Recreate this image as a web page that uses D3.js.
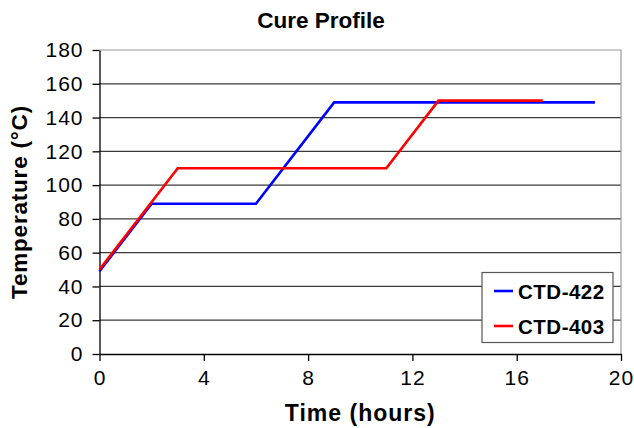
<!DOCTYPE html>
<html>
<head>
<meta charset="utf-8">
<script src="https://cdn.jsdelivr.net/npm/d3@7"></script>
<style>
  body { margin: 0; background: #fff; }
  svg { display: block; font-family: "Liberation Sans", Arial, sans-serif; }
</style>
</head>
<body>
<div id="chart"></div>
<script>
// series
const ctd422Hours = [0, 2, 6, 9, 19];
const ctd422Temps = [49, 89, 89, 149, 149];
const ctd403Hours = [0, 3, 11, 13, 17];
const ctd403Temps = [50, 110, 110, 150, 150];
const xTicks = [0, 4, 8, 12, 16, 20];
const yTicks = [0, 20, 40, 60, 80, 100, 120, 140, 160, 180];

const series = [
  {name: "CTD-422", color: "#0000ff", x: ctd422Hours, y: ctd422Temps},
  {name: "CTD-403", color: "#ff0000", x: ctd403Hours, y: ctd403Temps},
];

const width = 634, height = 428;
const margin = {top: 50, right: 13, bottom: 74, left: 99.5};
const font = "Liberation Sans, Arial, sans-serif";

const x = d3.scaleLinear().domain([0, 20]).range([margin.left, width - margin.right]);
const y = d3.scaleLinear().domain([0, 180]).range([height - margin.bottom, margin.top]);

const svg = d3.select("#chart").append("svg")
  .attr("width", width)
  .attr("height", height)
  .attr("viewBox", [0, 0, width, height]);

// gridlines
svg.append("g")
  .selectAll("line")
  .data(yTicks.slice(1, -1))
  .join("line")
    .attr("x1", x(0)).attr("x2", x(20))
    .attr("y1", d => y(d)).attr("y2", d => y(d))
    .attr("stroke", "#3a3a3a")
    .attr("stroke-width", 1.2);

// top and right border
svg.append("path")
  .attr("d", `M${x(0)},${y(180)}H${x(20)}V${y(0)}`)
  .attr("fill", "none")
  .attr("stroke", "#9a9a9a")
  .attr("stroke-width", 1.2);

const xAxis = d3.axisBottom(x).tickValues(xTicks).tickSize(7).tickSizeOuter(0).tickPadding(9);
const yAxis = d3.axisLeft(y).tickValues(yTicks).tickSize(7).tickSizeOuter(0).tickPadding(9);

svg.append("g")
  .attr("transform", `translate(0,${y(0)})`)
  .call(xAxis)
  .call(g => g.selectAll("path, line").attr("stroke", "#000").attr("stroke-width", 1.3))
  .call(g => g.selectAll("text").attr("font-size", 21).attr("fill", "#000")
    .attr("letter-spacing", 1).attr("font-family", font));

svg.append("g")
  .attr("transform", `translate(${x(0)},0)`)
  .call(yAxis)
  .call(g => g.selectAll("path, line").attr("stroke", "#000").attr("stroke-width", 1.3))
  .call(g => g.selectAll("text").attr("font-size", 21).attr("fill", "#000")
    .attr("letter-spacing", 1).attr("font-family", font));

// lines
const line = d3.line().x(d => x(d[0])).y(d => y(d[1]));
svg.append("g")
  .selectAll("path")
  .data(series)
  .join("path")
    .attr("fill", "none")
    .attr("stroke", d => d.color)
    .attr("stroke-width", 2.6)
    .attr("stroke-linejoin", "miter")
    .attr("d", d => line(d.x.map((h, i) => [h, d.y[i]])));

// titles
svg.append("text")
  .attr("x", 321).attr("y", 28)
  .attr("text-anchor", "middle")
  .attr("font-size", 22.5).attr("font-weight", "bold")
  .text("Cure Profile");

svg.append("text")
  .attr("x", (x(0) + x(20)) / 2).attr("y", 420.5)
  .attr("text-anchor", "middle")
  .attr("font-size", 23).attr("font-weight", "bold")
  .attr("letter-spacing", 1)
  .text("Time (hours)");

svg.append("text")
  .attr("transform", `translate(27,${(y(0) + y(180)) / 2}) rotate(-90)`)
  .attr("text-anchor", "middle")
  .attr("font-size", 22.5).attr("font-weight", "bold")
  .attr("letter-spacing", 0.8)
  .text("Temperature (°C)");

// legend
const legend = svg.append("g").attr("transform", "translate(482,272.5)");
legend.append("rect")
  .attr("width", 131).attr("height", 70)
  .attr("fill", "#fff")
  .attr("stroke", "#555")
  .attr("stroke-width", 1.2);

const item = legend.selectAll("g")
  .data(series)
  .join("g")
    .attr("transform", (d, i) => `translate(0,${18.5 + i * 35})`);
item.append("line")
  .attr("x1", 12).attr("x2", 31)
  .attr("stroke", d => d.color)
  .attr("stroke-width", 2.6);
item.append("text")
  .attr("x", 36).attr("y", 8)
  .attr("font-size", 20.5).attr("font-weight", "bold")
  .attr("letter-spacing", 0.5)
  .text(d => d.name);
</script>
</body>
</html>
